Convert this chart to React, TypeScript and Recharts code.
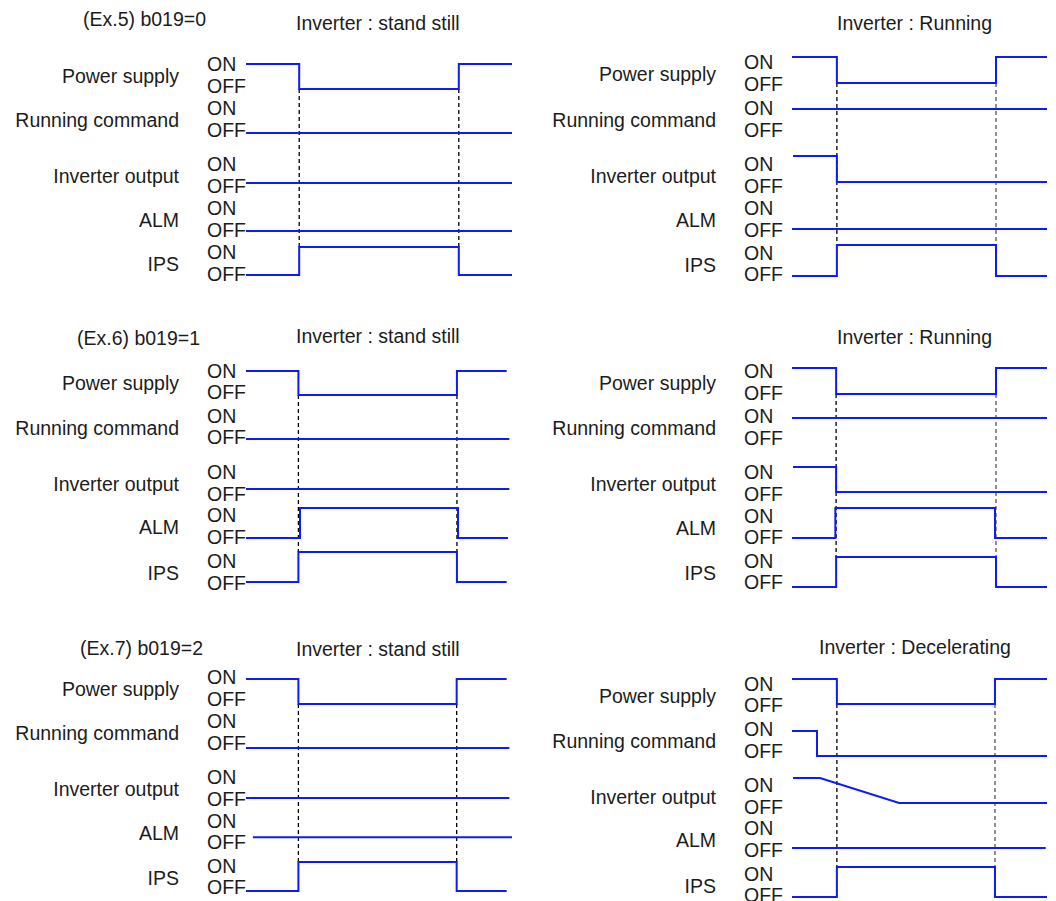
import React from 'react';
import { LineChart, Line, XAxis, YAxis, ReferenceLine } from 'recharts';

type Pt = [number, number];

const FONT = '"Liberation Sans", Arial, Helvetica, sans-serif';
const FS = 19.5;
const TEXT = '#1c1c1c';
const BLUE = '#0d1cf7';

const SIGNALS = ['Power supply', 'Running command', 'Inverter output', 'ALM', 'IPS'];

// waveforms: [time, level], level 1 = ON, 0 = OFF, time 0..100 across each trace
// order: power supply, running command, inverter output, ALM, IPS
const ex5Still: Pt[][] = [
  [[0, 1], [20, 1], [20, 0], [80, 0], [80, 1], [100, 1]],
  [[0, 0], [100, 0]],
  [[0, 0], [100, 0]],
  [[0, 0], [100, 0]],
  [[0, 0], [20, 0], [20, 1], [80, 1], [80, 0], [100, 0]],
];
const ex5Running: Pt[][] = [
  [[0, 1], [17.6, 1], [17.6, 0], [80, 0], [80, 1], [100, 1]],
  [[0, 1], [100, 1]],
  [[0.4, 1], [17.6, 1], [17.6, 0], [100, 0]],
  [[0, 0], [100, 0]],
  [[0, 0], [17.6, 0], [17.6, 1], [80, 1], [80, 0], [100, 0]],
];
const ex6Still: Pt[][] = [
  [[0, 1], [19.7, 1], [19.7, 0], [79.3, 0], [79.3, 1], [98, 1]],
  [[0, 0], [99, 0]],
  [[0, 0], [99, 0]],
  [[0, 0], [20.3, 0], [20.3, 1], [79.7, 1], [79.7, 0], [98.5, 0]],
  [[0, 0], [19.7, 0], [19.7, 1], [79.3, 1], [79.3, 0], [98, 0]],
];
const ex6Running: Pt[][] = [
  [[0, 1], [17.3, 1], [17.3, 0], [80, 0], [80, 1], [100, 1]],
  [[0, 1], [100, 1]],
  [[0.4, 1], [17.3, 1], [17.3, 0], [100, 0]],
  [[0, 0], [17, 0], [17, 1], [79.6, 1], [79.6, 0], [100, 0]],
  [[0, 0], [17.3, 0], [17.3, 1], [80, 1], [80, 0], [100, 0]],
];
const ex7Still: Pt[][] = [
  [[0, 1], [19.7, 1], [19.7, 0], [79.2, 0], [79.2, 1], [98, 1]],
  [[0, 0], [99, 0]],
  [[0, 0], [99, 0]],
  [[2.6, 0.3], [100, 0.3]],
  [[0, 0], [19.7, 0], [19.7, 1], [79.2, 1], [79.2, 0], [98, 0]],
];
const ex7Decel: Pt[][] = [
  [[0, 1], [17.6, 1], [17.6, 0], [79.6, 0], [79.6, 1], [100, 1]],
  [[0, 1], [9.8, 1], [9.8, 0], [100, 0]],
  [[0.4, 1], [11, 1], [42, 0], [100, 0]],
  [[0, 0], [99.5, 0]],
  [[0, 0], [17.6, 0], [17.6, 1], [79.6, 1], [79.6, 0], [100, 0]],
];

// instants of the dashed markers (power off / power back)
const edgesEx5Still = [20, 80];
const edgesEx5Run = [17.6, 80];
const edgesEx6Still = [19.7, 79.3];
const edgesEx6Run = [17.3, 80];
const edgesEx7Still = [19.7, 79.2];
const edgesEx7Decel = [17.6, 79.6];

// layout of each column
const SIDE = {
  L: { x: 0, plotLeft: 246, right: 16, nameX: 179, stateX: 207, dash: ['#000', '#000'] },
  R: { x: 528, plotLeft: 264, right: 9, nameX: 188, stateX: 216, dash: ['#000', '#555'] },
};

const PANELS = [
  {
    side: 'L', top: 0, height: 306, waves: ex5Still, edges: edgesEx5Still,
    nameY: [76, 120, 176, 220, 264], onY: [64, 105, 155, 202, 247], offY: [89, 133, 183, 231, 275],
  },
  {
    side: 'R', top: 0, height: 306, waves: ex5Running, edges: edgesEx5Run,
    nameY: [74, 120, 176, 220, 264.5], onY: [57, 109, 156, 200, 245], offY: [83, 135, 182, 229, 276],
  },
  {
    side: 'L', top: 306, height: 309, waves: ex6Still, edges: edgesEx6Still,
    nameY: [76.5, 121.5, 178, 221, 267], onY: [65, 105, 155, 202, 246], offY: [89, 133, 183, 232, 276],
  },
  {
    side: 'R', top: 306, height: 309, waves: ex6Running, edges: edgesEx6Run,
    nameY: [77, 122, 178, 221.5, 266.5], onY: [62, 112, 161, 202, 251], offY: [88, 138, 186, 232, 281],
  },
  {
    side: 'L', top: 615, height: 286, waves: ex7Still, edges: edgesEx7Still,
    nameY: [74, 118, 174, 217.5, 262.5], onY: [64, 105, 155, 202, 247], offY: [89, 133, 183, 231, 276],
  },
  {
    side: 'R', top: 615, height: 286, waves: ex7Decel, edges: edgesEx7Decel,
    nameY: [80.5, 126, 182, 225, 270.5], onY: [64, 116, 163, 204, 252], offY: [89, 141, 188, 233, 282],
  },
];

const TITLES: { text: string; x: number; y: number }[] = [
  { text: '(Ex.5) b019=0', x: 83, y: 19 },
  { text: 'Inverter : stand still', x: 296, y: 22.5 },
  { text: 'Inverter : Running', x: 837, y: 22.5 },
  { text: '(Ex.6) b019=1', x: 77, y: 338 },
  { text: 'Inverter : stand still', x: 296, y: 336 },
  { text: 'Inverter : Running', x: 837, y: 336.5 },
  { text: '(Ex.7) b019=2', x: 80, y: 648 },
  { text: 'Inverter : stand still', x: 296, y: 649 },
  { text: 'Inverter : Decelerating', x: 819, y: 646.5 },
];

const LaneTick = (props: any) => {
  const { y, index, nameX, stateX } = props;
  return (
    <g fontFamily={FONT} fontSize={FS} fill={TEXT}>
      <text x={nameX} y={y + 7} textAnchor="end" fill={TEXT}>{SIGNALS[index]}</text>
      <text x={stateX} y={y - 5} textAnchor="start" fill={TEXT}>ON</text>
      <text x={stateX} y={y + 16.5} textAnchor="start" fill={TEXT}>OFF</text>
    </g>
  );
};

const TimingPanel = ({ p }: { p: any }) => {
  const s = (SIDE as any)[p.side];
  return (
    <div style={{ position: 'absolute', left: s.x, top: p.top }}>
      <LineChart width={528} height={p.height} margin={{ top: 0, right: s.right, bottom: 0, left: 0 }}>
        <XAxis type="number" dataKey="t" domain={[0, 100]} hide allowDataOverflow />
        <YAxis
          type="number"
          domain={[0, p.height]}
          reversed
          allowDataOverflow
          width={s.plotLeft}
          ticks={p.nameY}
          interval={0}
          axisLine={false}
          tickLine={false}
          tickSize={0}
          tickMargin={0}
          tick={(tp: any) => <LaneTick {...tp} nameX={s.nameX} stateX={s.stateX} />}
        />
        {p.edges.map((t: number, i: number) => (
          <ReferenceLine
            key={`edge-${i}`}
            segment={[{ x: t, y: p.offY[0] }, { x: t, y: p.onY[4] }]}
            stroke={s.dash[i]}
            strokeWidth={1.3}
            strokeDasharray="4 3"
          />
        ))}
        {p.waves.map((w: Pt[], i: number) => (
          <Line
            key={SIGNALS[i]}
            name={SIGNALS[i]}
            data={w.map(([t, level]) => ({ t, y: p.offY[i] - level * (p.offY[i] - p.onY[i]) }))}
            dataKey="y"
            type="linear"
            stroke={BLUE}
            strokeWidth={2}
            dot={false}
            activeDot={false}
            isAnimationActive={false}
          />
        ))}
      </LineChart>
    </div>
  );
};

export default function App() {
  return (
    <div style={{ position: 'absolute', left: 0, top: 0, width: 1056, height: 901, overflow: 'hidden', background: '#fff' }}>
      {PANELS.map((p, i) => <TimingPanel key={i} p={p} />)}
      {TITLES.map((t, i) => (
        <div
          key={i}
          style={{
            position: 'absolute', left: t.x, top: t.y - 10, lineHeight: '20px',
            fontFamily: FONT, fontSize: FS, color: TEXT, whiteSpace: 'nowrap',
          }}
        >
          {t.text}
        </div>
      ))}
    </div>
  );
}
